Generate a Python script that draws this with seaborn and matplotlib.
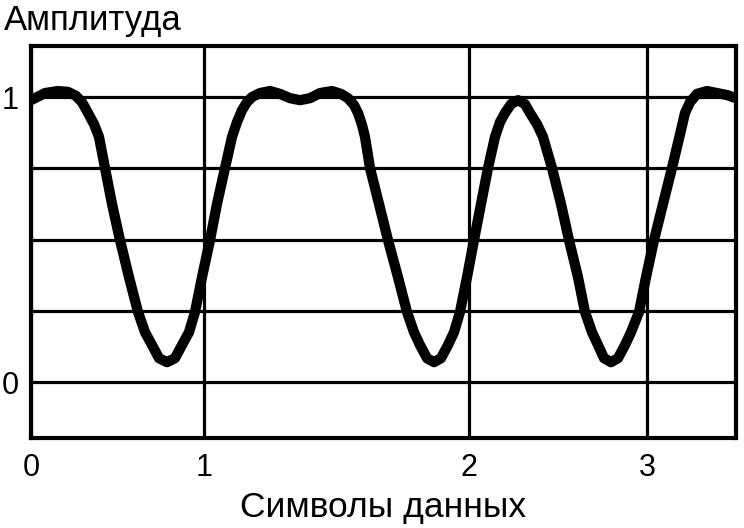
import matplotlib
matplotlib.use("Agg")
import matplotlib.pyplot as plt
import seaborn as sns
import pandas as pd

# Data: time (arbitrary sample units) and amplitude
sample_time = [0, 14, 27, 37, 45, 51, 57, 63, 68, 74,
               81, 89, 98, 107, 114, 121, 128, 136, 144, 151,
               158, 164, 171, 179, 186, 194, 201, 206, 211, 216,
               221, 229, 239, 249, 259, 269, 279, 289, 301, 310,
               317, 323, 327, 331, 334, 339, 348, 357, 367, 376,
               383, 389, 396, 403, 410, 417, 423, 429, 436, 443,
               450, 457, 464, 469, 474, 480, 487, 494, 499, 506,
               512, 521, 530, 538, 547, 554, 561, 567, 573, 580,
               587, 594, 600, 608, 615, 623, 632, 641, 646, 650,
               654, 659, 666, 676, 686, 696, 705]
amplitude = [0.989, 1.014, 1.021, 1.018, 1.004, 0.982, 0.944, 0.905, 0.860, 0.751,
             0.625, 0.498, 0.368, 0.246, 0.175, 0.130, 0.084, 0.070, 0.084, 0.130,
             0.175, 0.246, 0.368, 0.498, 0.625, 0.751, 0.860, 0.912, 0.954, 0.982,
             1.000, 1.014, 1.021, 1.011, 0.996, 0.989, 0.996, 1.014, 1.021, 1.011,
             0.996, 0.972, 0.944, 0.902, 0.860, 0.751, 0.625, 0.498, 0.368, 0.246,
             0.175, 0.130, 0.084, 0.070, 0.084, 0.130, 0.175, 0.246, 0.368, 0.498,
             0.625, 0.751, 0.860, 0.912, 0.944, 0.975, 0.989, 0.975, 0.944, 0.905,
             0.860, 0.751, 0.625, 0.498, 0.368, 0.246, 0.175, 0.130, 0.084, 0.070,
             0.084, 0.130, 0.175, 0.246, 0.368, 0.498, 0.625, 0.751, 0.825, 0.884,
             0.944, 0.982, 1.011, 1.021, 1.014, 1.007, 0.996]

symbol_ticks = [0, 173, 438, 616]
symbol_labels = ["0", "1", "2", "3"]
amp_ticks = [0.0, 0.25, 0.5, 0.75, 1.0]
amp_labels = ["0", "", "", "", "1"]

title_text = "Амплитуда"
xlabel_text = "Символы данных"

sns.set_style("white")
plt.rcParams["font.family"] = ["Liberation Sans", "DejaVu Sans"]

fig = plt.figure(figsize=(7.44, 5.28), dpi=100)
ax = fig.add_axes([31 / 744, 1 - 438 / 528, (736 - 31) / 744, (438 - 46) / 528])

df = pd.DataFrame({"t": sample_time, "a": amplitude})
sns.lineplot(data=df, x="t", y="a", ax=ax, color="black", linewidth=7.4,
             sort=False, estimator=None, zorder=5,
             solid_joinstyle="round", solid_capstyle="butt")

ax.set_xlim(0, 705)
ax.set_ylim(-0.196, 1.179)
ax.set_xticks(symbol_ticks)
ax.set_xticklabels(symbol_labels)
ax.set_yticks(amp_ticks)
ax.set_yticklabels(amp_labels)
ax.tick_params(axis="both", length=0, labelsize=22, colors="black")
ax.tick_params(axis="x", pad=10.5)
ax.tick_params(axis="y", pad=9)

ax.grid(True, color="black", linewidth=2.3)
ax.set_axisbelow(True)
for s in ax.spines.values():
    s.set_visible(True)
    s.set_color("black")
    s.set_linewidth(3.0)

ax.set_xlabel(xlabel_text, fontsize=25.5, labelpad=6, color="black")
ax.set_ylabel("")
fig.text(4 / 744, 1 - 4 / 528, title_text, fontsize=25, ha="left", va="top", color="black")

fig.savefig("out.png", dpi=100)
